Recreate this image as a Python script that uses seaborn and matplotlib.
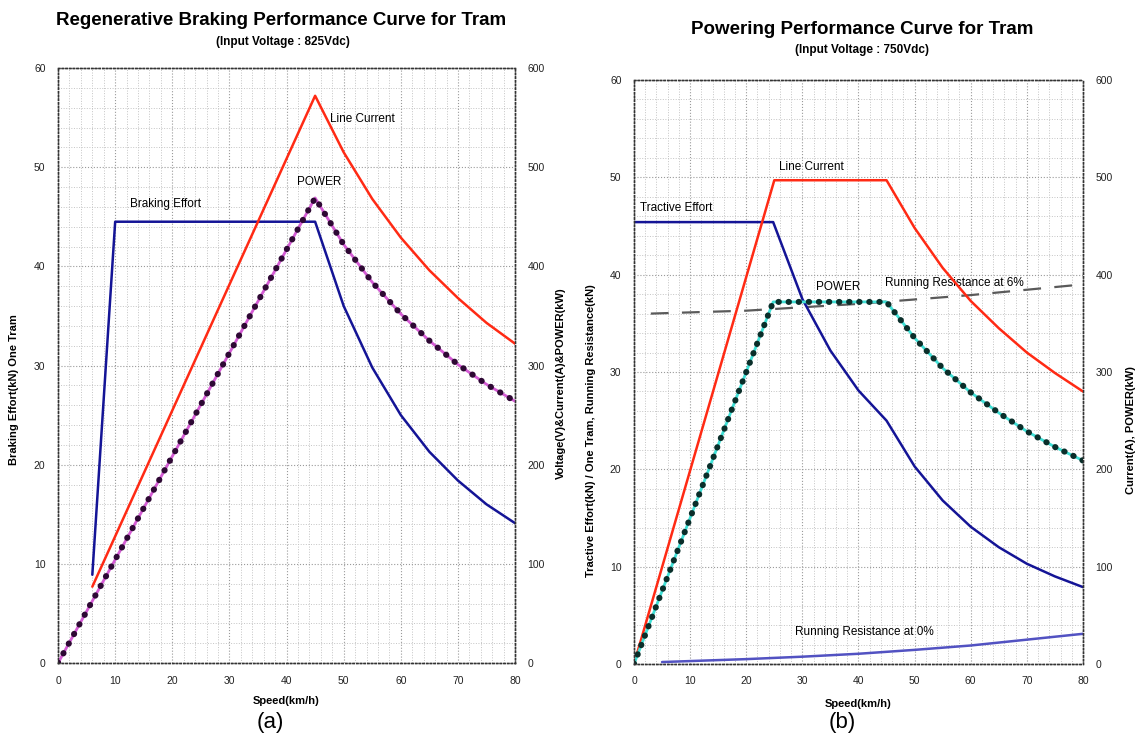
import numpy as np
import seaborn as sns
from matplotlib import pyplot as plt
from matplotlib.ticker import MultipleLocator

# (a) regenerative braking, 825Vdc
brake_speed = [6, 10, 45, 50, 55, 60, 65, 70, 75, 80]
brake_effort = [8.9, 44.5, 44.5, 36.0, 29.8, 25.0, 21.3, 18.4, 16.0, 14.1]
brake_cur_speed = [6, 45, 50, 55, 60, 65, 70, 75, 80]
brake_current = [77, 572, 515, 468, 429, 396, 368, 343, 322]
brake_pow_speed = [0, 45, 50, 55, 60, 65, 70, 75, 80]
brake_power = [0, 469, 422, 384, 352, 325, 301, 281, 264]

# (b) powering, 750Vdc
trac_speed = [0, 24.8, 30, 35, 40, 45, 50, 55, 60, 65, 70, 75, 80]
trac_effort = [45.4, 45.4, 37.5, 32.2, 28.1, 25.0, 20.3, 16.8, 14.1, 12.0, 10.3, 9.0, 7.9]
pw_cur_speed = [0, 25, 45, 50, 55, 60, 65, 70, 75, 80]
pw_current = [0, 497, 497, 448, 407, 373, 345, 320, 299, 280]
pw_pow_speed = [0, 24.8, 45, 50, 55, 60, 65, 70, 75, 80]
pw_power = [0, 372, 372, 335, 304, 279, 258, 239, 223, 209]
rr6_speed = [3, 20, 40, 60, 80]
rr6 = [36.0, 36.3, 37.0, 37.9, 39.0]
rr0_speed = [5, 10, 20, 30, 40, 50, 60, 70, 80]
rr0 = [0.2, 0.3, 0.5, 0.75, 1.05, 1.45, 1.9, 2.5, 3.1]

sns.set_theme(style="white")
plt.rcParams["font.family"] = ["Liberation Sans", "DejaVu Sans"]
plt.rcParams["text.color"] = "black"
plt.rcParams["axes.labelcolor"] = "black"

RED = "#ff2a14"
BLUE = "#141496"


def setup(ax, ax2):
    ax.set_xlim(0, 80)
    ax.set_ylim(0, 60)
    ax2.set_ylim(0, 600)
    ax.xaxis.set_major_locator(MultipleLocator(10))
    ax.yaxis.set_major_locator(MultipleLocator(10))
    ax.xaxis.set_minor_locator(MultipleLocator(2))
    ax.yaxis.set_minor_locator(MultipleLocator(2))
    ax2.yaxis.set_major_locator(MultipleLocator(100))
    ax.grid(which="minor", linestyle=":", color="#c4c4c4", linewidth=0.7)
    ax.grid(which="major", linestyle=":", color="#9a9a9a", linewidth=0.8)
    for a in (ax, ax2):
        a.tick_params(which="both", length=0, labelsize=7.5, labelcolor="#222222", pad=9)
        for s in a.spines.values():
            s.set_linestyle(":")
            s.set_color("#333333")
            s.set_linewidth(1.0)


def dotted_power(ax, x, y, line_col, dot_col, gap):
    sns.lineplot(x=x, y=y, ax=ax, color=line_col, linewidth=2.0, errorbar=None)
    sns.lineplot(x=x, y=y, ax=ax, color=dot_col, linewidth=4.4, errorbar=None,
                 linestyle=(0, (0.05, gap)), dash_capstyle="round")


fig = plt.figure(figsize=(11.36, 7.49), dpi=100)

# ---- (a) ----
ax_a = fig.add_axes([0.0511, 0.1148, 0.4023, 0.7944])
ax_a2 = ax_a.twinx()
setup(ax_a, ax_a2)
sns.lineplot(x=brake_speed, y=brake_effort, ax=ax_a, color=BLUE, linewidth=1.8, errorbar=None)
sns.lineplot(x=brake_cur_speed, y=brake_current, ax=ax_a2, color=RED, linewidth=1.8, errorbar=None)
dotted_power(ax_a2, brake_pow_speed, brake_power, "#d45cd4", "#2e0834", 1.75)
ax_a.text(47.6, 54.9, "Line Current", fontsize=8.5, va="center")
ax_a.text(12.6, 46.3, "Braking Effort", fontsize=8.5, va="center")
ax_a.text(41.9, 48.5, "POWER", fontsize=8.5, va="center")
ax_a.set_xlabel("Speed(km/h)", fontsize=8, fontweight="bold")
ax_a.set_ylabel("Braking Effort(kN) One Tram", fontsize=8, fontweight="bold")
ax_a2.set_ylabel("Voltage(V)&Current(A)&POWER(kW)", fontsize=8, fontweight="bold")
ax_a.yaxis.set_label_coords(-0.085, 0.46)
ax_a2.yaxis.set_label_coords(1.09, 0.47)
ax_a.xaxis.set_label_coords(0.5, -0.055)
fig.text(0.247, 0.973, "Regenerative Braking Performance Curve for Tram",
         ha="center", va="center", fontsize=13.5, fontweight="bold")
fig.text(0.249, 0.944, "(Input Voltage : 825Vdc)", ha="center", va="center",
         fontsize=8.5, fontweight="bold")
fig.text(0.238, 0.036, "(a)", ha="center", va="center", fontsize=16)

# ---- (b) ----
ax_b = fig.add_axes([0.5581, 0.1135, 0.3952, 0.7797])
ax_b2 = ax_b.twinx()
setup(ax_b, ax_b2)
sns.lineplot(x=rr0_speed, y=rr0, ax=ax_b, color="#5252c2", linewidth=1.8, errorbar=None)
sns.lineplot(x=rr6_speed, y=rr6, ax=ax_b, color="#5a5a5a", linewidth=1.6, errorbar=None,
             linestyle=(0, (8, 6)))
sns.lineplot(x=trac_speed, y=trac_effort, ax=ax_b, color=BLUE, linewidth=1.8, errorbar=None)
sns.lineplot(x=pw_cur_speed, y=pw_current, ax=ax_b2, color=RED, linewidth=1.8, errorbar=None)
dotted_power(ax_b2, pw_pow_speed, pw_power, "#3fe0d6", "#0a2e2a", 1.6)
ax_b.text(25.8, 51.1, "Line Current", fontsize=8.5, va="center")
ax_b.text(1.1, 46.8, "Tractive Effort", fontsize=8.5, va="center")
ax_b.text(32.4, 38.7, "POWER", fontsize=8.5, va="center")
ax_b.text(44.7, 39.1, "Running Resistance at 6%", fontsize=8.5, va="center")
ax_b.text(28.7, 3.3, "Running Resistance at 0%", fontsize=8.5, va="center")
ax_b.set_xlabel("Speed(km/h)", fontsize=8, fontweight="bold")
ax_b.set_ylabel("Tractive Effort(kN) / One Tram, Running Resistance(kN)", fontsize=8,
                fontweight="bold")
ax_b2.set_ylabel("Current(A), POWER(kW)", fontsize=8, fontweight="bold")
ax_b.yaxis.set_label_coords(-0.085, 0.40)
ax_b2.yaxis.set_label_coords(1.095, 0.40)
ax_b.xaxis.set_label_coords(0.5, -0.06)
fig.text(0.759, 0.96, "Powering Performance Curve for Tram",
         ha="center", va="center", fontsize=13.5, fontweight="bold")
fig.text(0.759, 0.933, "(Input Voltage : 750Vdc)", ha="center", va="center",
         fontsize=8.5, fontweight="bold")
fig.text(0.741, 0.036, "(b)", ha="center", va="center", fontsize=16)

fig.savefig("out.png", dpi=100)
